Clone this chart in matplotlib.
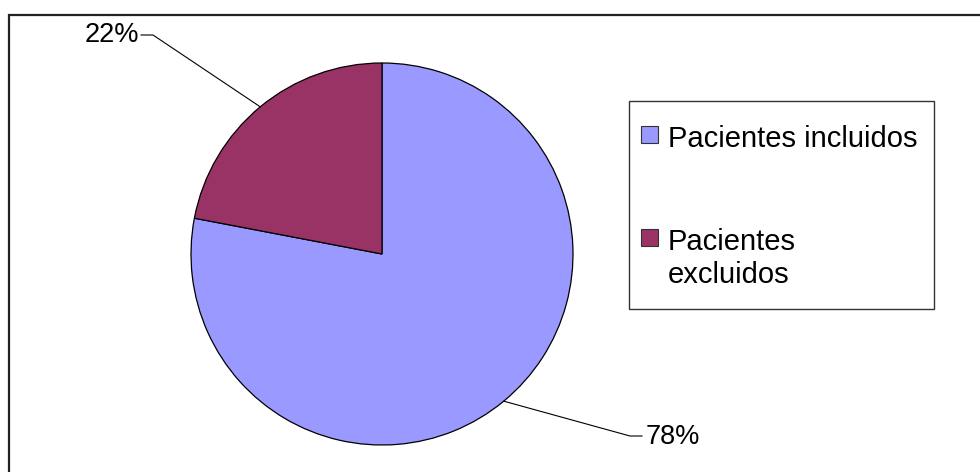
import numpy as np
import matplotlib
matplotlib.use("Agg")
import matplotlib.pyplot as plt
from matplotlib.patches import Rectangle

plt.rcParams['font.family'] = ['Liberation Sans', 'DejaVu Sans']

categories = ["Pacientes incluidos", "Pacientes\nexcluidos"]
values = [78, 22]
colors = ["#9999FF", "#993366"]

W, H = 980, 472
fig = plt.figure(figsize=(W / 100, H / 100), dpi=100)
ax = fig.add_axes([0, 0, 1, 1])


def Y(y):
    return H - y


cx, cy, r = 382, Y(254), 191
wedges, _ = ax.pie(values, colors=colors, startangle=90, counterclock=False,
                   center=(cx, cy), radius=r, frame=True,
                   wedgeprops=dict(edgecolor="black", linewidth=0.9))
ax.set_xlim(0, W)
ax.set_ylim(0, H)
ax.set_axis_off()

# outer chart frame (top and left edges visible)
ax.add_patch(Rectangle((9, Y(490)), 1000, 475, fill=False,
                       edgecolor="#222222", lw=1.6, zorder=1))

# percentage labels with leader lines
total = sum(values)
label_layout = [
    # (elbow point, end point, text pos, ha)
    ((630, Y(436)), (642, Y(436)), (646, Y(437)), "left"),
    ((153, Y(35)), (141, Y(35)), (139, Y(35)), "right"),
]
for w, v, (elbow, end, tpos, ha) in zip(wedges, values, label_layout):
    mid = np.deg2rad((w.theta1 + w.theta2) / 2)
    px, py = cx + r * np.cos(mid), cy + r * np.sin(mid)
    ax.plot([px, elbow[0], end[0]], [py, elbow[1], end[1]],
            color="black", lw=0.8, zorder=3)
    ax.text(tpos[0], tpos[1], f"{v / total * 100:.0f}%", ha=ha, va="center",
            fontsize=19.5, color="black")

# legend box
ax.add_patch(Rectangle((629, Y(309)), 305, 208, fill=True, facecolor="white",
                       edgecolor="#333333", lw=1.0, zorder=4))
legend_rows = [135, 238]
for lab, col, yy in zip(categories, colors, legend_rows):
    ax.add_patch(Rectangle((641, Y(yy + 8)), 17, 17, facecolor=col,
                           edgecolor="#333333", lw=0.8, zorder=5))
    ax.text(668, Y(yy - 10), lab, ha="left", va="top", fontsize=21,
            linespacing=1.22, zorder=5)

fig.savefig("out.png", dpi=100)
